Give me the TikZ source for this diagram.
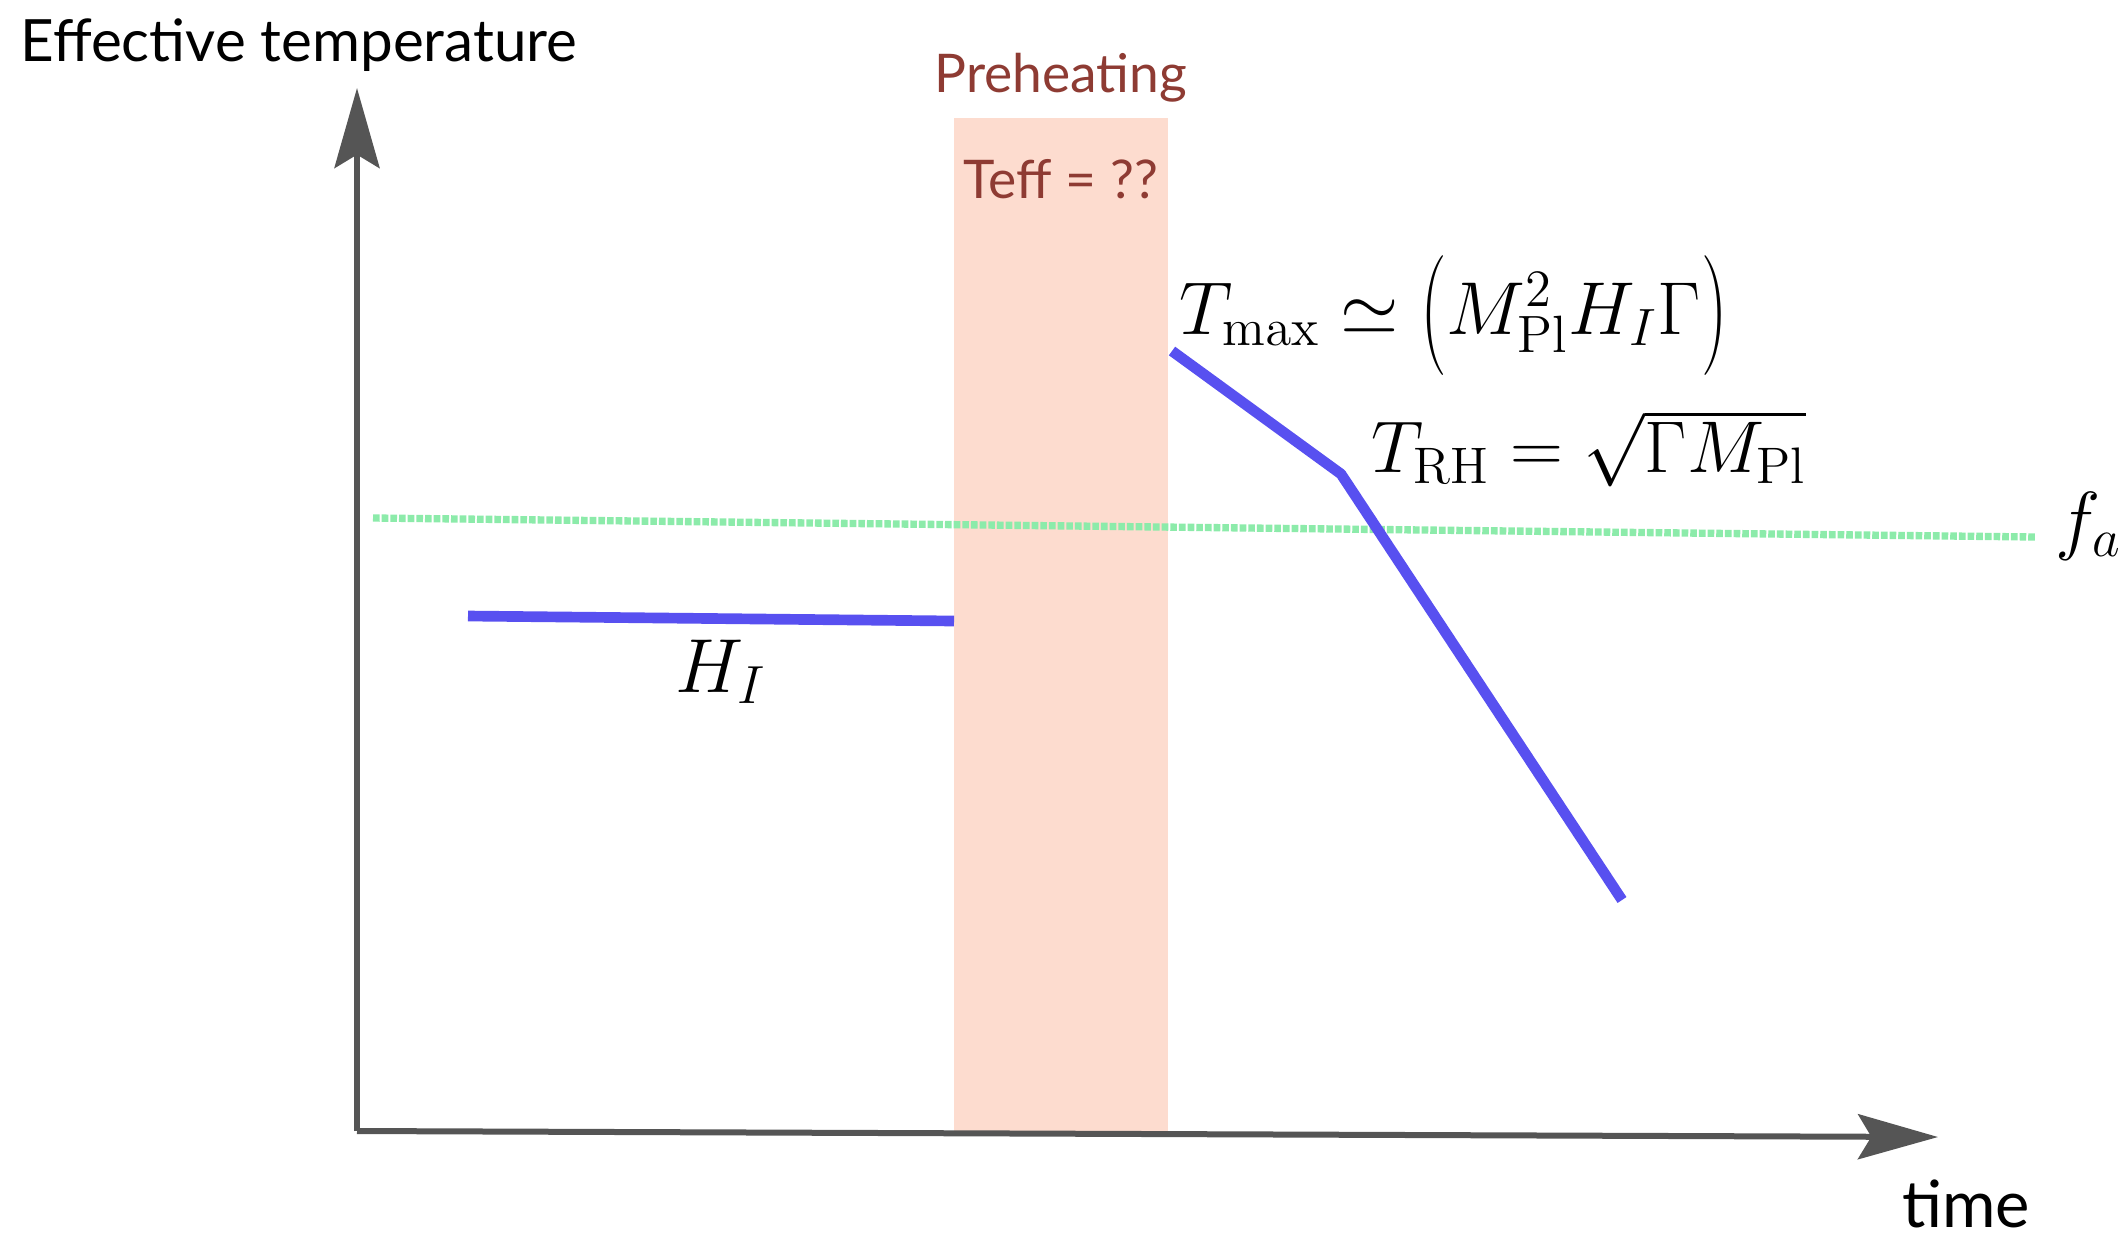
\RequirePackage{fix-cm}
\documentclass[tikz,border=0pt]{standalone}
\usepackage{graphicx}
\usepackage[no-math]{fontspec}
\setmainfont{Lato}
\usetikzlibrary{arrows.meta}

\definecolor{axisgray}{RGB}{85,85,85}
\definecolor{bandpink}{RGB}{253,220,207}
\definecolor{preheatred}{RGB}{142,59,51}
\definecolor{curveblue}{RGB}{88,80,240}
\definecolor{fagreen}{RGB}{140,235,170}

% taller round brackets for the T_max label
\newcommand{\tallopen}{\mathopen{\vcenter{\hbox{\scalebox{1}[1.6]{$($}}}}}
\newcommand{\tallclose}{\mathclose{\vcenter{\hbox{\scalebox{1}[1.6]{$)$}}}}}

\tikzset{every picture/.style={line width=0.75pt},
  axisline/.style={draw=axisgray, line width=1.8pt, -{Stealth[length=24pt,width=13.5pt,inset=4pt]}},
  tempcurve/.style={draw=curveblue, line width=3.2pt, line join=round},
  scaleline/.style={draw=fagreen, line width=2.2pt, dash pattern=on 2pt off 0.6pt},
  textlabel/.style={inner sep=0.75pt, font=\fontsize{16}{19}\selectfont},
  mathlabel/.style={inner sep=0.75pt, font=\fontsize{22}{26}\selectfont},
}

\begin{document}
\begin{tikzpicture}[x=0.3pt,y=0.3pt,yscale=-1,xscale=1]
\useasboundingbox (0,0) rectangle (2128,1236);

%Shape: Rectangle [id:preheating band]
\fill [bandpink] (954,118) rectangle (1168,1132);

%Shape: Line [id:fa scale]
\coordinate (fastart) at (373,518);
\coordinate (faend) at (2036,537);
\draw [scaleline] (fastart) -- (faend);

%Shape: Axis [id:axes]
\coordinate (origin) at (357,1131);
\coordinate (ytip) at (357,88);
\coordinate (xtip) at (1938,1137);
\draw [axisline] (origin) -- (ytip);
\draw [axisline] (origin) -- (xtip);

%Shape: Line [id:inflation plateau]
\coordinate (histart) at (468,616);
\coordinate (hiend) at (954,621);
\draw [tempcurve] (histart) -- (hiend);

%Shape: Polyline [id:reheating decay]
\coordinate (tmaxpt) at (1172,351);
\coordinate (trhpt) at (1341,474);
\coordinate (tendpt) at (1622,900);
\draw [tempcurve] (tmaxpt) -- (trhpt) -- (tendpt);

% Text Node
\node [textlabel, anchor=base west, font=\fontsize{17.5}{21}\selectfont] (ylabel) at (17,61) {Effective temperature};
% Text Node
\node [textlabel, anchor=base, text=preheatred] (preheatlabel) at (1061,92) {Preheating};
% Text Node
\node [textlabel, anchor=base, text=preheatred] (tefflabel) at (1061,198) {Teff = ??};
% Text Node
\node [textlabel, anchor=base, font=\fontsize{19.5}{23}\selectfont] (xlabel) at (1966,1227) {time};
% Text Node
\node [mathlabel, anchor=base west, font=\fontsize{23}{27}\selectfont] (hilabel) at (672,692) {$H_{I}$};
% Text Node
\node [mathlabel, anchor=base west, font=\fontsize{22.5}{27}\selectfont] (tmaxlabel) at (1176,334) {$T_{\max}\simeq\tallopen M_{\mathrm{Pl}}^{2}H_{I}\Gamma\tallclose$};
% Text Node
\node [mathlabel, anchor=base west] (trhlabel) at (1368,472) {$T_{\mathrm{RH}}=\sqrt{\Gamma M_{\mathrm{Pl}}}$};
% Text Node
\node [mathlabel, anchor=base west, font=\fontsize{23}{27}\selectfont] (falabel) at (2052,545) {$f_{a}$};

\end{tikzpicture}
\end{document}
